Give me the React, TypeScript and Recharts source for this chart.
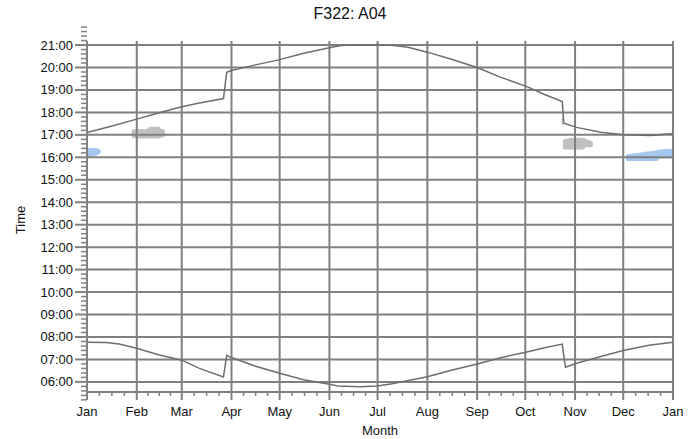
import React from "react";
import { Area, ComposedChart, Line, ReferenceLine, XAxis, YAxis } from "recharts";

// day of year (0 = 1 Jan) and time of day
const monthStarts = [0, 31, 59, 90, 120, 151, 181, 212, 243, 273, 304, 334, 365];
const monthLabels = ["Jan", "Feb", "Mar", "Apr", "May", "Jun", "Jul", "Aug", "Sep", "Oct", "Nov", "Dec", "Jan"];
const hourTicks = [6, 7, 8, 9, 10, 11, 12, 13, 14, 15, 16, 17, 18, 19, 20, 21];
const hourLabels = ["06:00", "07:00", "08:00", "09:00", "10:00", "11:00", "12:00", "13:00", "14:00", "15:00", "16:00", "17:00", "18:00", "19:00", "20:00", "21:00"];

const sunsetDays = [0, 15, 31, 45, 59, 70, 85, 87, 90, 105, 120, 135, 151, 158, 166, 175, 185, 191, 200, 212, 227, 243, 257, 274, 285, 296, 297, 305, 320, 334, 351, 365];
const sunsetTimes = ["17:06", "17:23", "17:42", "17:59", "18:15", "18:25", "18:37", "19:47", "19:52", "20:07", "20:21", "20:38", "20:53", "20:59", "21:00", "21:01", "21:00", "20:59", "20:54", "20:41", "20:22", "20:00", "19:35", "19:09", "18:48", "18:29", "17:31", "17:20", "17:07", "17:00", "16:58", "17:04"];

const sunriseDays = [0, 12, 20, 31, 45, 59, 70, 85, 87, 90, 105, 120, 135, 151, 156, 170, 181, 190, 212, 227, 243, 257, 274, 285, 296, 298, 305, 320, 334, 350, 365];
const sunriseTimes = ["07:46", "07:45", "07:41", "07:30", "07:12", "06:58", "06:36", "06:13", "07:11", "07:05", "06:42", "06:23", "06:06", "05:54", "05:49", "05:47", "05:49", "05:55", "06:14", "06:31", "06:48", "07:04", "07:20", "07:31", "07:41", "06:39", "06:50", "07:08", "07:24", "07:38", "07:46"];

// shaded periods: [day, from, to]
const blueJanDays = [0, 5, 7, 8.7];
const blueJanLow = ["16:02", "16:04", "16:07", "16:12"];
const blueJanHigh = ["16:24", "16:25", "16:23", "16:18"];

const greyFebDays = [27.8, 29, 37, 39, 45, 46, 48, 48.6];
const greyFebLow = ["16:56", "16:51", "16:50", "16:50", "16:51", "16:52", "16:55", "16:58"];
const greyFebHigh = ["17:10", "17:15", "17:15", "17:22", "17:22", "17:17", "17:15", "17:08"];

const greyOctDays = [296.4, 297, 305, 309, 311, 314, 315.1];
const greyOctLow = ["16:23", "16:21", "16:21", "16:21", "16:27", "16:27", "16:30"];
const greyOctHigh = ["16:46", "16:48", "16:52", "16:52", "16:48", "16:44", "16:40"];

const greyJumpDays = [295.6, 296.6];
const greyJumpLow = ["17:27", "17:27"];
const greyJumpHigh = ["17:45", "17:45"];

const blueDecDays = [335.8, 340, 348, 355, 357, 365];
const blueDecLow = ["15:50", "15:50", "15:50", "15:50", "15:57", "15:57"];
const blueDecHigh = ["16:07", "16:10", "16:15", "16:19", "16:21", "16:23"];

const toH = (s: string) => {
  const [h, m] = s.split(":").map(Number);
  return h + m / 60;
};

const lineData = (days: number[], times: string[]) => days.map((d, i) => ({ d, t: toH(times[i]) }));
const rangeData = (days: number[], lo: string[], hi: string[]) =>
  days.map((d, i) => ({ d, r: [toH(lo[i]), toH(hi[i])] }));

const sunset = lineData(sunsetDays, sunsetTimes);
const sunrise = lineData(sunriseDays, sunriseTimes);
const patches = [
  { key: "bj", color: "#a4c8f0", data: rangeData(blueJanDays, blueJanLow, blueJanHigh) },
  { key: "gf", color: "#c0c0c0", data: rangeData(greyFebDays, greyFebLow, greyFebHigh) },
  { key: "go", color: "#c0c0c0", data: rangeData(greyOctDays, greyOctLow, greyOctHigh) },
  { key: "gj", color: "#c0c0c0", data: rangeData(greyJumpDays, greyJumpLow, greyJumpHigh) },
  { key: "bd", color: "#a4c8f0", data: rangeData(blueDecDays, blueDecLow, blueDecHigh) },
];

const minorX: number[] = [];
monthStarts.slice(0, -1).forEach((s, i) => {
  const len = monthStarts[i + 1] - s;
  minorX.push(s + len / 4, s + len / 2, s + (3 * len) / 4);
});
const minorY: number[] = [];
[5, ...hourTicks].forEach((h) => [12, 24, 36, 48].forEach((m) => minorY.push(h + m / 60)));

const Y_MIN = 5.55;
const Y_MAX = 21.18;
const GRID = "#808080";
const LINE = "#6e6e6e";

const XTick = (props: any) => {
  const { x, y, payload } = props;
  const idx = monthStarts.indexOf(payload.value);
  const major = idx >= 0;
  return (
    <g>
      <line x1={x} x2={x} y1={y} y2={y + (major ? 8 : 4)} stroke={GRID} strokeWidth={major ? 2 : 1.5} />
      {major && (
        <text x={x} y={y + 24} textAnchor="middle" fontSize={13} fill="#111">
          {monthLabels[idx]}
        </text>
      )}
    </g>
  );
};

const YTick = (props: any) => {
  const { x, y, payload } = props;
  const idx = hourTicks.indexOf(payload.value);
  const major = idx >= 0;
  return (
    <g>
      <line x1={x - (major ? 12 : 6)} x2={x} y1={y} y2={y} stroke={GRID} strokeWidth={major ? 2 : 1.5} />
      {major && (
        <text x={x - 14} y={y} dy={4.5} textAnchor="end" fontSize={13} fill="#111">
          {hourLabels[idx]}
        </text>
      )}
    </g>
  );
};

export default function App() {
  return (
    <div
      style={{
        position: "absolute",
        left: 0,
        top: 0,
        width: 700,
        height: 439,
        background: "#fff",
        fontFamily: "'Liberation Sans', Arial, sans-serif",
      }}
    >
      <div style={{ position: "absolute", left: 0, width: 700, top: 5, textAlign: "center", fontSize: 16, color: "#111" }}>
        F322: A04
      </div>
      <div
        style={{
          position: "absolute",
          left: 20,
          top: 220,
          fontSize: 13,
          color: "#111",
          transform: "translate(-50%, -50%) rotate(-90deg)",
        }}
      >
        Time
      </div>
      <div style={{ position: "absolute", left: 380, top: 430, transform: "translate(-50%, -50%)", fontSize: 13, color: "#111" }}>
        Month
      </div>
      <ComposedChart width={700} height={439} margin={{ top: 41, right: 27, bottom: 0, left: 0 }}>
        <XAxis
          dataKey="d"
          type="number"
          domain={[0, 365]}
          allowDataOverflow
          ticks={[...monthStarts, ...minorX]}
          interval={0}
          tick={XTick}
          tickLine={false}
          tickSize={0}
          tickMargin={0}
          height={47}
          axisLine={{ stroke: GRID, strokeWidth: 2 }}
        />
        <YAxis
          type="number"
          domain={[Y_MIN, Y_MAX]}
          allowDataOverflow
          ticks={[...hourTicks, ...minorY]}
          interval={0}
          tick={YTick}
          tickLine={false}
          tickSize={0}
          tickMargin={0}
          width={87}
          axisLine={{ stroke: GRID, strokeWidth: 2 }}
        />
        {patches.map((p) => (
          <Area
            key={p.key}
            data={p.data}
            dataKey="r"
            type="monotone"
            stroke="none"
            fill={p.color}
            fillOpacity={1}
            isAnimationActive={false}
            dot={false}
            activeDot={false}
          />
        ))}
        {hourTicks.map((h) => (
          <ReferenceLine key={"h" + h} y={h} stroke={GRID} strokeWidth={2} />
        ))}
        {monthStarts.map((m) => (
          <ReferenceLine key={"m" + m} x={m} stroke={GRID} strokeWidth={2} />
        ))}
        <Line data={sunset} dataKey="t" type="linear" stroke={LINE} strokeWidth={1.5} dot={false} activeDot={false} isAnimationActive={false} />
        <Line data={sunrise} dataKey="t" type="linear" stroke={LINE} strokeWidth={1.5} dot={false} activeDot={false} isAnimationActive={false} />
      </ComposedChart>
    </div>
  );
}
